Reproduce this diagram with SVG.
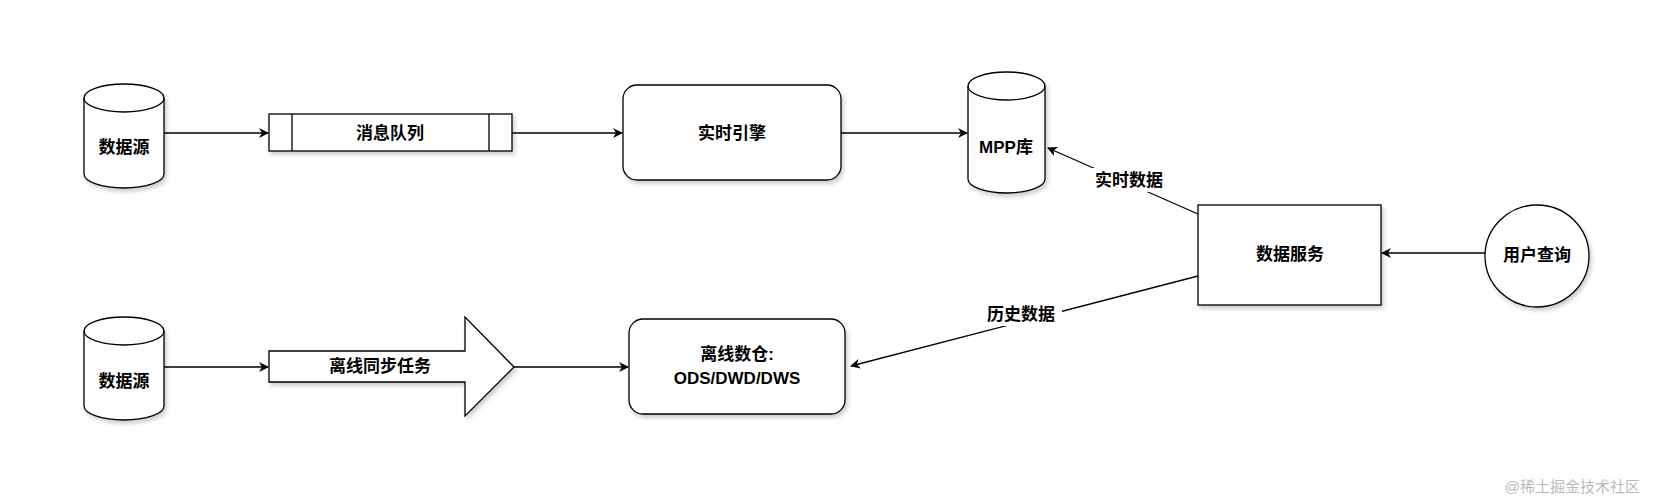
<svg xmlns="http://www.w3.org/2000/svg" width="1654" height="504" viewBox="0 0 1654 504">
<defs>
<filter id="sh" x="-10%" y="-10%" width="130%" height="130%"><feDropShadow dx="2" dy="3" stdDeviation="2" flood-color="#000" flood-opacity="0.2"/></filter>
<marker id="ah" markerWidth="10" markerHeight="10" refX="9" refY="5" orient="auto" markerUnits="userSpaceOnUse"><path d="M0,0 L10,5 L0,10 L3,5 Z" fill="#000"/></marker>
</defs>
<style>
.s{fill:#fff;stroke:#000;stroke-width:1.3;filter:url(#sh)}
.t{font-family:"Liberation Sans","Noto Sans CJK SC",sans-serif;font-size:17px;font-weight:bold;text-anchor:middle;fill:#000}
.c{fill:none;stroke:#000;stroke-width:1.3;marker-end:url(#ah)}
.lb{fill:#fff}
</style>
<rect width="1654" height="504" fill="#fff"/>
<g id="connectors">
<line class="c" x1="164" y1="133" x2="268" y2="133"/>
<line class="c" x1="512" y1="133" x2="622" y2="133"/>
<line class="c" x1="841" y1="133" x2="967" y2="133"/>
<line class="c" x1="164" y1="367" x2="268" y2="367"/>
<line class="c" x1="514" y1="367" x2="628" y2="367"/>
<line class="c" x1="1485" y1="253" x2="1382" y2="253"/>
<line class="c" x1="1198" y1="214" x2="1048" y2="148"/>
<line class="c" x1="1198" y1="276" x2="851" y2="366"/>
<rect class="lb" x="1088" y="168" width="82" height="24"/>
<text class="t" x="1129" y="186">实时数据</text>
<rect class="lb" x="980" y="302" width="82" height="24"/>
<text class="t" x="1021" y="320">历史数据</text>
</g>
<g id="src1">
<path class="s" d="M84,98 A40,14 0 0 1 164,98 V174 A40,14 0 0 1 84,174 Z"/>
<path d="M84,98 A40,14 0 0 0 164,98" fill="none" stroke="#000" stroke-width="1.3"/>
<text class="t" x="124" y="153">数据源</text>
</g>
<g id="queue">
<rect class="s" x="269" y="114" width="243" height="37"/>
<line x1="292" y1="114" x2="292" y2="151" stroke="#000" stroke-width="1.3"/>
<line x1="489" y1="114" x2="489" y2="151" stroke="#000" stroke-width="1.3"/>
<text class="t" x="390" y="139">消息队列</text>
</g>
<g id="engine">
<rect class="s" x="623" y="85" width="218" height="95" rx="14"/>
<text class="t" x="732" y="139">实时引擎</text>
</g>
<g id="mpp">
<path class="s" d="M968,86 A38.5,14 0 0 1 1045,86 V179 A38.5,14 0 0 1 968,179 Z"/>
<path d="M968,86 A38.5,14 0 0 0 1045,86" fill="none" stroke="#000" stroke-width="1.3"/>
<text class="t" x="1006" y="153">MPP库</text>
</g>
<g id="service">
<rect class="s" x="1198" y="205" width="183" height="100"/>
<text class="t" x="1290" y="260">数据服务</text>
</g>
<g id="user">
<ellipse class="s" cx="1537" cy="256" rx="52" ry="51"/>
<text class="t" x="1537" y="261">用户查询</text>
</g>
<g id="src2">
<path class="s" d="M84,331 A40,14 0 0 1 164,331 V406 A40,14 0 0 1 84,406 Z"/>
<path d="M84,331 A40,14 0 0 0 164,331" fill="none" stroke="#000" stroke-width="1.3"/>
<text class="t" x="124" y="387">数据源</text>
</g>
<g id="sync">
<path class="s" d="M269,351 H465 V317 L514,367 L465,416 V382 H269 Z"/>
<text class="t" x="380" y="372">离线同步任务</text>
</g>
<g id="dw">
<rect class="s" x="629" y="319" width="216" height="95" rx="14"/>
<text class="t" x="737" y="360">离线数仓:</text>
<text class="t" x="737" y="384">ODS/DWD/DWS</text>
</g>
<text x="1640" y="492" font-family="Liberation Sans,Noto Sans CJK SC,sans-serif" font-size="15" fill="#bbb" text-anchor="end">@稀土掘金技术社区</text>
</svg>
